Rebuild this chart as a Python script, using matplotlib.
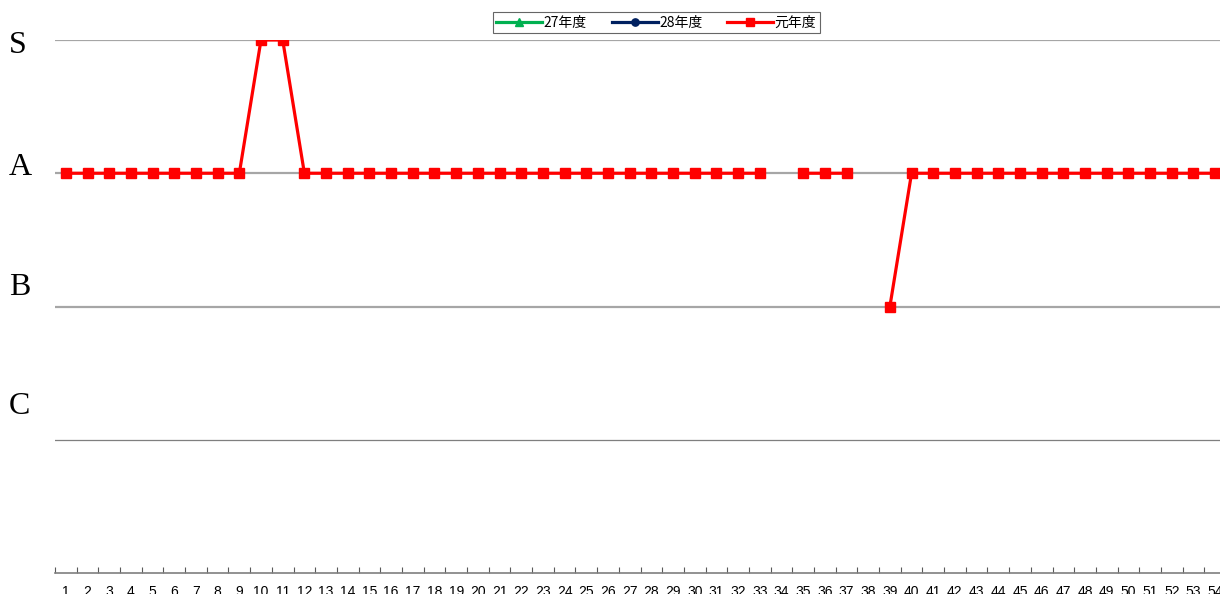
import numpy as np
import matplotlib.pyplot as plt

plt.rcParams['font.family'] = ['Noto Sans CJK JP', 'DejaVu Sans']

# 評価ランク（数値化）
grade_names = ['C', 'B', 'A', 'S']
grade_value = {'C': 1, 'B': 2, 'A': 3, 'S': 4}
# ラベル位置のずれ（元の図では目盛り線から少し上にずれている）
label_shift = [0.25, 0.14, 0.045, -0.04]

numbers = list(range(1, 55))
series_labels = ['27年度', '28年度', '元年度']
series_colors = ['#00B050', '#002060', '#FF0000']
series_markers = ['^', 'o', 's']

r27 = [None] * 54
r28 = [None] * 54
r01 = ['A', 'A', 'A', 'A', 'A', 'A', 'A', 'A', 'A', 'S',
       'S', 'A', 'A', 'A', 'A', 'A', 'A', 'A', 'A', 'A',
       'A', 'A', 'A', 'A', 'A', 'A', 'A', 'A', 'A', 'A',
       'A', 'A', 'A', None, 'A', 'A', 'A', None, 'B', 'A',
       'A', 'A', 'A', 'A', 'A', 'A', 'A', 'A', 'A', 'A',
       'A', 'A', 'A', 'A']


def to_num(seq):
    return np.array([grade_value[g] if g else np.nan for g in seq], dtype=float)


fig = plt.figure(figsize=(12.2, 5.94), dpi=100)
# 右端は元画像で切れているので少しはみ出させる
ax = fig.add_axes([55 / 1220, 21 / 594, 1171 / 1220, 533 / 594])

x = np.arange(len(numbers))
for data, lab, col, mk in zip([r27, r28, r01], series_labels, series_colors, series_markers):
    ax.plot(x, to_num(data), color=col, marker=mk, markersize=7, lw=2.3,
            label=lab, zorder=3)

ax.set_xlim(-0.5, len(numbers) - 0.5)
ax.set_ylim(0, 4)

for v in [2, 3, 4]:
    ax.axhline(v, color='#a6a6a6', lw=1.6, zorder=1)
ax.axhline(1, color='#7f7f7f', lw=0.9, zorder=1)

ax.set_yticks([])
for name, sh in zip(grade_names, label_shift):
    ax.text(-46 / 1171, grade_value[name] + sh, name, transform=ax.get_yaxis_transform(),
            ha='left', va='center', fontsize=23, family=['Liberation Serif'])

ax.set_xticks(x)
ax.set_xticklabels([str(n) for n in numbers], fontsize=10, family=['Liberation Sans'])
ax.set_xticks(np.arange(len(numbers) + 1) - 0.5, minor=True)
ax.tick_params(axis='x', which='major', length=0, pad=9)
ax.tick_params(axis='x', which='minor', length=4, direction='in', color='#595959', width=0.8)

for s in ['top', 'right', 'left']:
    ax.spines[s].set_visible(False)
ax.spines['bottom'].set_color('#7f7f7f')
ax.spines['bottom'].set_linewidth(1.2)

leg = ax.legend(loc='upper center', bbox_to_anchor=(0.5 + 0.0135, 1.065), ncol=3,
                fontsize=10, frameon=True, fancybox=False, edgecolor='#404040',
                handlelength=3.3, handletextpad=0.1, columnspacing=1.8,
                borderpad=0.25, markerscale=0.75)
leg.get_frame().set_linewidth(0.8)

fig.savefig('out.png', dpi=100)
